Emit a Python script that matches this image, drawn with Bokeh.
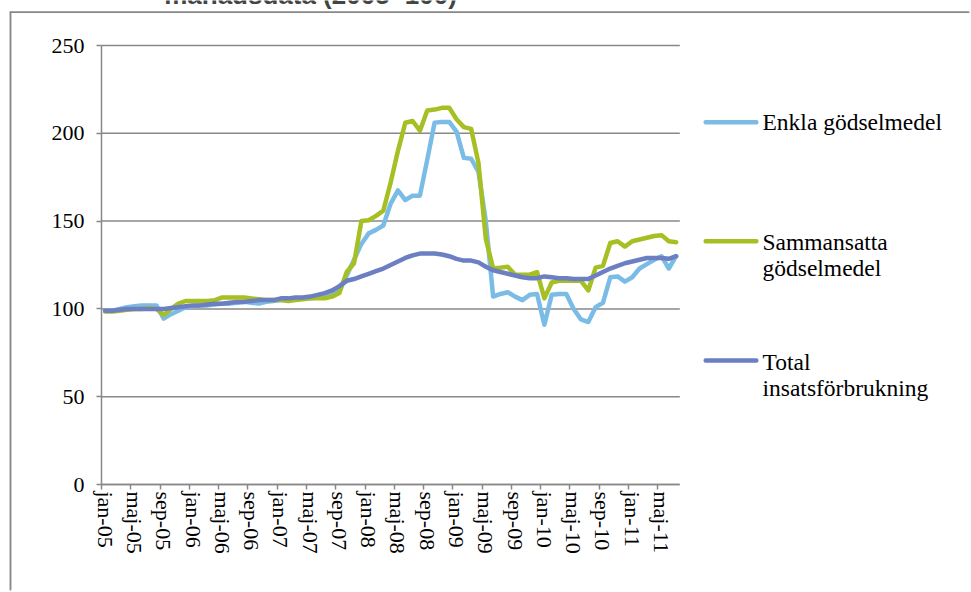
from bokeh.plotting import figure
from bokeh.models import Range1d, FixedTicker, LinearAxis, Label, BoxAnnotation
from bokeh.embed import file_html
from bokeh.resources import INLINE

# Monthly periods, jan-05 .. jul-11
month_names = ["jan", "feb", "mar", "apr", "maj", "jun",
               "jul", "aug", "sep", "okt", "nov", "dec"]
periods = [f"{m}-{y:02d}" for y in range(5, 12) for m in month_names][:79]

# Price indices, 2005 = 100
enkla = [
    99, 99, 100, 101, 101.5, 102, 102, 102, 94.5, 97, 99, 101,
    101.5, 102, 102, 102.5, 103, 103, 103.5, 104, 103.5, 103, 104, 104.5,
    105, 105, 105.5, 106, 106, 106.5, 107, 108, 111, 119, 128, 137,
    143, 145, 147.5, 160, 167.5, 162, 164.5, 164.5, 185, 206, 206.5, 206.5,
    201, 186, 185.5, 178, 150, 107, 108.5, 109.5, 107, 105, 108, 108.5,
    91, 108, 108.5, 108.5, 100, 94, 92.5, 101, 103.5, 118, 118.5, 115.5,
    118, 123, 125.5, 128, 130, 123, 130,
]
sammansatta = [
    98.5, 98.5, 99, 99.5, 100, 100, 100.5, 100, 96.5, 100, 103, 104.5,
    104.5, 104.5, 104.5, 105, 106.5, 106.5, 106.5, 106.5, 106, 105.5, 105, 105,
    105, 104.5, 105, 105.5, 106, 106, 106, 107, 109, 121, 126, 150,
    150.5, 153, 156, 172, 190, 206, 207, 201.5, 213, 213.5, 214.5, 214.5,
    208, 203.5, 202.5, 183, 140, 123, 123.5, 124, 119.5, 119.5, 119.5, 121,
    106, 115, 116, 116, 116, 116, 110.5, 123.5, 124.5, 137.5, 138.5, 135.5,
    138.5, 139.5, 140.5, 141.5, 142, 138.5, 138,
]
total = [
    99, 99, 99.5, 100, 100, 100, 100, 100, 100, 100.5, 101, 101.5,
    102, 102, 102.5, 103, 103, 103.5, 104, 104, 104.5, 105, 105, 105,
    106, 106, 106.5, 106.5, 107, 108, 109, 110.5, 113, 116, 117, 118.5,
    120, 121.5, 123, 125, 127, 129, 130.5, 131.5, 131.5, 131.5, 131, 130,
    128.5, 127.5, 127.5, 126.5, 124, 122, 121, 120, 119, 118, 117.5, 117.5,
    118.5, 118, 117.5, 117.5, 117, 117, 117, 119, 121, 123, 124.5, 126,
    127, 128, 129, 129, 129, 128.5, 130,
]

series_names = ["Enkla gödselmedel", "Sammansatta\ngödselmedel", "Total\ninsatsförbrukning"]
series_colors = ["#7BBCE7", "#A6BF22", "#6B7FC2"]
y_ticks = [0, 50, 100, 150, 200, 250]

GREY = "#888888"
SERIF = "Liberation Serif"
W, H = 971, 592

# plot area in page pixels: months sit in equal slots between x0 and x1,
# values 0..250 run from y0 (bottom) up to y1 (top)
n = len(periods)
x0, x1 = 101.0, 679.3
y0, y1 = 484.0, 45.0
slot = (x1 - x0) / n
unit = (y0 - y1) / 250.0
x_start = -0.5 - x0 / slot
x_end = -0.5 + (W - x0) / slot
y_start = -(H - y0) / unit
y_end = y0 / unit


def px_x(px):
    return x_start + px / slot


def px_y(py):
    return y_end - py / unit


def canvas_box(**kw):
    return BoxAnnotation(left_units="canvas", right_units="canvas",
                         top_units="canvas", bottom_units="canvas", **kw)


p = figure(width=W, height=H, output_backend="svg", toolbar_location=None,
           x_range=Range1d(x_start, x_end), y_range=Range1d(y_start, y_end),
           x_axis_type=None, y_axis_type=None, min_border=0)
p.outline_line_color = None
p.background_fill_color = None
p.border_fill_color = None

x = list(range(n))

# horizontal gridlines across the plot area
p.segment(x0=[-0.5] * len(y_ticks), x1=[n - 0.5] * len(y_ticks),
          y0=y_ticks, y1=y_ticks, line_color=GREY, line_width=1.5)

for vals, color in zip([enkla, sammansatta, total], series_colors):
    p.line(x, vals, line_color=color, line_width=4.5,
           line_join="round", line_cap="round")

# chart area border: top and left edges (the rest lies off the page)
p.line([px_x(10), px_x(10), px_x(W - 2)], [px_y(H - 2), px_y(11.75), px_y(11.75)],
       line_color=GREY, line_width=1.5, level="overlay")
p.add_layout(canvas_box(left=9.25, right=W - 3, top=11, bottom=12.5,
                        fill_color=GREY, fill_alpha=1, line_color=None))
p.add_layout(canvas_box(left=9.25, right=10.75, top=11, bottom=H - 3,
                        fill_color=GREY, fill_alpha=1, line_color=None))

# value axis
yax = LinearAxis(fixed_location=-0.5, bounds=(0, 250),
                 ticker=FixedTicker(ticks=y_ticks),
                 axis_line_color=GREY, axis_line_width=1.5,
                 major_tick_line_color=GREY, major_tick_line_width=1.5,
                 major_tick_out=5, major_tick_in=0, minor_tick_line_color=None,
                 major_label_standoff=12, major_label_text_font=SERIF,
                 major_label_text_font_size="22px", major_label_text_color="black")
p.add_layout(yax, "left")

# category axis: tick marks on month boundaries, labels on month centres
tick_axis = LinearAxis(fixed_location=0, bounds=(-0.5, n - 0.5),
                       ticker=FixedTicker(ticks=[i - 0.5 for i in range(0, n, 4)]),
                       axis_line_color=GREY, axis_line_width=1.5,
                       major_tick_line_color=GREY, major_tick_line_width=1.5,
                       major_tick_out=5, major_tick_in=0, minor_tick_line_color=None,
                       major_label_text_font_size="0px", major_label_text_color=None,
                       major_label_standoff=0)
p.add_layout(tick_axis, "below")

label_ticks = list(range(0, n, 4))
label_axis = LinearAxis(fixed_location=0,
                        ticker=FixedTicker(ticks=label_ticks),
                        major_label_overrides={i: periods[i] for i in label_ticks},
                        major_label_orientation="vertical",
                        axis_line_color=None, major_tick_line_color=None,
                        minor_tick_line_color=None, major_tick_out=0, major_tick_in=0,
                        major_label_standoff=7, major_label_text_font=SERIF,
                        major_label_text_font_size="22px", major_label_text_color="black")
p.add_layout(label_axis, "below")

# title (its second line; the first runs off the top of the page)
p.add_layout(Label(x=310, y=-6, x_units="canvas", y_units="canvas",
                   text="månadsdata (2005=100)", text_font="Liberation Sans",
                   text_font_style="bold", text_font_size="26px",
                   text_align="center", text_baseline="alphabetic"))

# legend
legend_y = [121.7, 240.7, 360.0]
legend_text_y = [121.3, 241.0, 361.0]
for name, color, ly, ty in zip(series_names, series_colors, legend_y, legend_text_y):
    p.add_layout(canvas_box(left=703, right=758, top=ly - 2.3, bottom=ly + 2.3,
                            fill_color=color, fill_alpha=1, line_color=None,
                            border_radius=2))
    for k, line in enumerate(name.split("\n")):
        p.add_layout(Label(x=762, y=ty + 26.5 * k, x_units="canvas", y_units="canvas",
                           text=line, text_font=SERIF, text_font_size="23.5px",
                           text_color="black", text_align="left",
                           text_baseline="alphabetic"))

open("out.html", "w").write(file_html(p, INLINE))
